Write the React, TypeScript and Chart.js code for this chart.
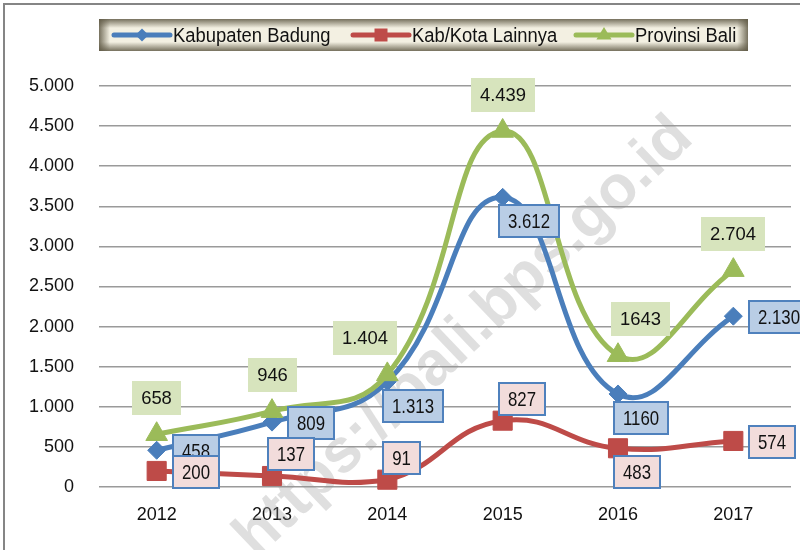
import React, { useEffect, useRef } from 'react';
import { Chart, registerables } from 'chart.js';

Chart.register(...registerables);

// ---------- data ----------
const years = ['2012', '2013', '2014', '2015', '2016', '2017'];
const seriesNames = ['Kabupaten Badung', 'Kab/Kota Lainnya', 'Provinsi Bali'];
const badung = [458, 809, 1313, 3612, 1160, 2130];
const lainnya = [200, 137, 91, 827, 483, 574];
const bali = [658, 946, 1404, 4439, 1643, 2704];
const badungLabels = ['458', '809', '1.313', '3.612', '1160', '2.130'];
const lainnyaLabels = ['200', '137', '91', '827', '483', '574'];
const baliLabels = ['658', '946', '1.404', '4.439', '1643', '2.704'];
const badungLabelPos = ['right', 'right', 'below', 'below', 'below', 'right'];
const lainnyaLabelPos = ['right', 'above', 'above', 'above', 'below', 'right'];
const baliLabelPos = ['above', 'above', 'aboveLeft', 'above', 'aboveRight', 'above'];
const yMin = 0;
const yMax = 5000;
const yStep = 500;
const watermark = 'https://bali.bps.go.id';

// ---------- styles ----------
const BLUE = '#4a7ebb';
const RED = '#be4b48';
const GREEN = '#9bbb59';
const FONT = "'Liberation Sans', Arial, sans-serif";

const fmt = (v: number) => {
  const s = String(Math.round(v));
  return s.replace(/\B(?=(\d{3})+(?!\d))/g, '.');
};

type LabelStyle = {
  font: string;
  squeeze: number;
  fill: string;
  stroke: string | null;
  padX: number;
  h: number;
};

const boxedBlue: LabelStyle = { font: `21px ${FONT}`, squeeze: 0.8, fill: '#b9cde5', stroke: '#4f81bd', padX: 9, h: 32 };
const boxedRed: LabelStyle = { font: `21px ${FONT}`, squeeze: 0.8, fill: '#f2dcdb', stroke: '#4f81bd', padX: 9, h: 32 };
const plainGreen: LabelStyle = { font: `19px ${FONT}`, squeeze: 0.97, fill: '#d7e4bd', stroke: null, padX: 9, h: 34 };

function placeBox(pos: string, px: number, py: number, w: number, h: number) {
  switch (pos) {
    case 'right':
      return { x: px + 16, y: py + 1 - h / 2 };
    case 'below':
      return { x: px - 4, y: py + 24 - h / 2 };
    case 'above':
      if (h >= 34) return { x: px - w / 2, y: py - 36 - h / 2 };
      return { x: px - 4, y: py - 22 - h / 2 };
    case 'aboveLeft':
      return { x: px - 22 - w / 2, y: py - 36 - h / 2 };
    case 'aboveRight':
      return { x: px + 22 - w / 2, y: py - 36 - h / 2 };
    default:
      return { x: px, y: py };
  }
}

const labelPlugin = {
  id: 'boxLabels',
  afterDatasetsDraw(chart: any) {
    const ctx = chart.ctx as CanvasRenderingContext2D;
    const groups: [number, string[], string[], LabelStyle][] = [
      [0, badungLabels, badungLabelPos, boxedBlue],
      [1, lainnyaLabels, lainnyaLabelPos, boxedRed],
      [2, baliLabels, baliLabelPos, plainGreen],
    ];
    ctx.save();
    for (const [di, texts, poss, st] of groups) {
      const meta = chart.getDatasetMeta(di);
      meta.data.forEach((el: any, i: number) => {
        const text = texts[i];
        ctx.font = st.font;
        const tw = ctx.measureText(text).width * st.squeeze;
        const w = Math.round(tw + st.padX * 2);
        const h = st.h;
        const p = placeBox(poss[i], el.x, el.y, w, h);
        const bx = Math.round(p.x);
        const by = Math.round(p.y);
        ctx.fillStyle = st.fill;
        ctx.fillRect(bx, by, w, h);
        if (st.stroke) {
          ctx.strokeStyle = st.stroke;
          ctx.lineWidth = 2;
          ctx.strokeRect(bx, by, w, h);
        }
        ctx.save();
        ctx.translate(bx + w / 2, by + h / 2 + 1);
        ctx.scale(st.squeeze, 1);
        ctx.fillStyle = '#111';
        ctx.textAlign = 'center';
        ctx.textBaseline = 'middle';
        ctx.fillText(text, 0, 0);
        ctx.restore();
      });
    }
    ctx.restore();
  },
};

const watermarkPlugin = {
  id: 'watermark',
  beforeDatasetsDraw(chart: any) {
    const ctx = chart.ctx as CanvasRenderingContext2D;
    ctx.save();
    ctx.translate(476, 350);
    ctx.rotate((-43.7 * Math.PI) / 180);
    ctx.font = `bold 62px ${FONT}`;
    ctx.fillStyle = 'rgba(150,150,150,0.3)';
    ctx.textAlign = 'center';
    ctx.textBaseline = 'alphabetic';
    ctx.fillText(watermark, 0, 0);
    ctx.restore();
  },
};

function drawMarker(ctx: CanvasRenderingContext2D, kind: string, x: number, y: number, r: number, color: string) {
  ctx.fillStyle = color;
  ctx.beginPath();
  if (kind === 'diamond') {
    ctx.moveTo(x - r, y);
    ctx.lineTo(x, y - r);
    ctx.lineTo(x + r, y);
    ctx.lineTo(x, y + r);
  } else if (kind === 'square') {
    ctx.rect(x - r, y - r, 2 * r, 2 * r);
  } else {
    ctx.moveTo(x, y - r);
    ctx.lineTo(x + r * 0.95, y + r * 0.55);
    ctx.lineTo(x - r * 0.95, y + r * 0.55);
  }
  ctx.closePath();
  ctx.fill();
}

const legendPlugin = {
  id: 'customLegend',
  afterDraw(chart: any) {
    const ctx = chart.ctx as CanvasRenderingContext2D;
    const x0 = 99, y0 = 19, w = 649, h = 32;
    ctx.save();
    ctx.fillStyle = '#f3f0e2';
    ctx.fillRect(x0, y0, w, h);
    const dark = 'rgba(96,90,70,';
    const band = 9;
    let g = ctx.createLinearGradient(0, y0, 0, y0 + band);
    g.addColorStop(0, dark + '0.85)');
    g.addColorStop(1, dark + '0)');
    ctx.fillStyle = g;
    ctx.fillRect(x0, y0, w, band);
    g = ctx.createLinearGradient(0, y0 + h, 0, y0 + h - band);
    g.addColorStop(0, dark + '0.85)');
    g.addColorStop(1, dark + '0)');
    ctx.fillStyle = g;
    ctx.fillRect(x0, y0 + h - band, w, band);
    g = ctx.createLinearGradient(x0, 0, x0 + band + 2, 0);
    g.addColorStop(0, dark + '0.85)');
    g.addColorStop(1, dark + '0)');
    ctx.fillStyle = g;
    ctx.fillRect(x0, y0, band + 2, h);
    g = ctx.createLinearGradient(x0 + w, 0, x0 + w - band - 2, 0);
    g.addColorStop(0, dark + '0.85)');
    g.addColorStop(1, dark + '0)');
    ctx.fillStyle = g;
    ctx.fillRect(x0 + w - band - 2, y0, band + 2, h);

    const cy = y0 + h / 2;
    const items: [number, string, string][] = [
      [114, BLUE, 'diamond'],
      [353, RED, 'square'],
      [576, GREEN, 'triangle'],
    ];
    items.forEach(([lx, color, kind], i) => {
      ctx.strokeStyle = color;
      ctx.lineWidth = 5;
      ctx.lineCap = 'round';
      ctx.beginPath();
      ctx.moveTo(lx, cy);
      ctx.lineTo(lx + 56, cy);
      ctx.stroke();
      const r = kind === 'diamond' ? 6.5 : kind === 'square' ? 6.5 : 8;
      drawMarker(ctx, kind, lx + 28, cy, r, color);
      ctx.save();
      ctx.translate(lx + 59, cy + 1);
      ctx.scale(0.92, 1);
      ctx.fillStyle = '#111';
      ctx.font = `20px ${FONT}`;
      ctx.textAlign = 'left';
      ctx.textBaseline = 'middle';
      ctx.fillText(seriesNames[i], 0, 0);
      ctx.restore();
    });
    ctx.restore();
  },
};

const borderPlugin = {
  id: 'outerBorder',
  afterDraw(chart: any) {
    const ctx = chart.ctx as CanvasRenderingContext2D;
    ctx.save();
    ctx.strokeStyle = '#858585';
    ctx.lineWidth = 2;
    ctx.strokeRect(4, 4, 820, 580);
    ctx.restore();
  },
};

export default function App() {
  const ref = useRef<HTMLCanvasElement | null>(null);

  useEffect(() => {
    document.body.style.margin = '0';
    if (!ref.current) return;
    const chart = new Chart(ref.current, {
      type: 'line',
      data: {
        labels: years,
        datasets: [
          {
            label: seriesNames[0],
            data: badung,
            borderColor: BLUE,
            backgroundColor: BLUE,
            pointBackgroundColor: BLUE,
            pointBorderColor: BLUE,
            pointBorderWidth: 1,
            borderWidth: 5,
            tension: 0.45,
            pointStyle: 'rectRot',
            pointRadius: 9,
            order: 2,
            clip: false,
          },
          {
            label: seriesNames[1],
            data: lainnya,
            borderColor: RED,
            backgroundColor: RED,
            pointBackgroundColor: RED,
            pointBorderColor: RED,
            pointBorderWidth: 1,
            borderWidth: 5,
            tension: 0.45,
            pointStyle: 'rect',
            pointRadius: 13.5,
            order: 1,
            clip: false,
          },
          {
            label: seriesNames[2],
            data: bali,
            borderColor: GREEN,
            backgroundColor: GREEN,
            pointBackgroundColor: GREEN,
            pointBorderColor: GREEN,
            pointBorderWidth: 1,
            borderWidth: 5,
            tension: 0.45,
            pointStyle: 'triangle',
            pointRadius: 12.5,
            order: 0,
            clip: false,
          },
        ],
      },
      options: {
        responsive: false,
        animation: false,
        events: [],
        layout: { autoPadding: false, padding: { left: 0, right: 9, top: 86, bottom: 0 } },
        plugins: {
          legend: { display: false },
          tooltip: { enabled: false },
          title: { display: false },
        },
        scales: {
          x: {
            type: 'category',
            offset: true,
            grid: { display: false, drawTicks: false },
            border: { display: false },
            ticks: {
              color: '#111',
              font: { family: FONT, size: 18 },
              padding: 17,
              maxRotation: 0,
            },
            afterFit: (s: any) => {
              s.height = 63;
              s.paddingLeft = 0;
              s.paddingRight = 0;
            },
          },
          y: {
            min: yMin,
            max: yMax,
            grid: { color: '#9a9a9a', lineWidth: 1.5, drawTicks: false },
            border: { display: false },
            ticks: {
              stepSize: yStep,
              padding: 25,
              color: '#111',
              font: { family: FONT, size: 18 },
              callback: (v: any) => fmt(Number(v)),
            },
            afterFit: (s: any) => {
              s.width = 99;
              s.paddingTop = 0;
              s.paddingBottom = 0;
            },
          },
        },
      },
      plugins: [watermarkPlugin, labelPlugin, legendPlugin, borderPlugin],
    } as any);
    return () => chart.destroy();
  }, []);

  return (
    <div style={{ width: 800, height: 550, background: '#fff' }}>
      <canvas ref={ref} width={800} height={550} />
    </div>
  );
}
